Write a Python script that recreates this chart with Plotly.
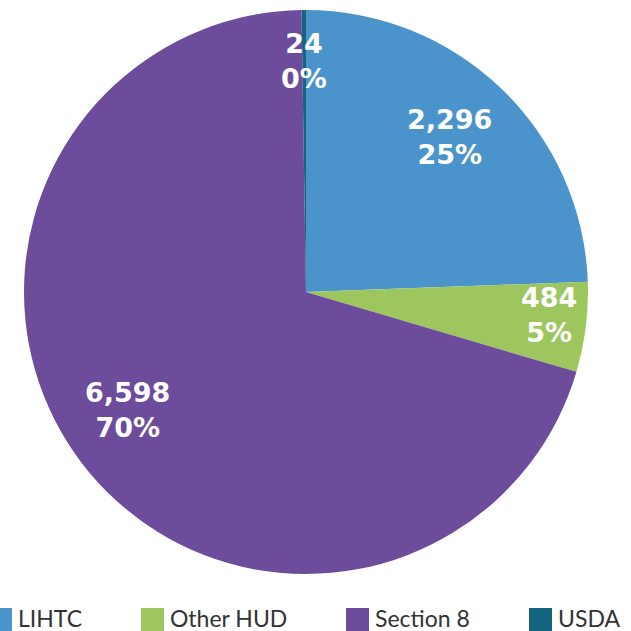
import math
import plotly.graph_objects as go

categories = ["LIHTC", "Other HUD", "Section 8", "USDA"]
units = [2296, 484, 6598, 24]
pct_labels = ["25%", "5%", "70%", "0%"]
colors = ["#4A94CB", "#9DC75E", "#6D4C9C", "#146482"]

# label placement: radius fraction along slice bisector plus pixel nudge (style)
label_r = [0.75, 0.87, 0.76, 0.815]
label_nudge = [(-3, -3), (0, -8), (-8, -12), (0, -1)]

W = H = 631
cx, cy, R = 306, 292, 282

fig = go.Figure()
fig.add_trace(go.Pie(
    labels=categories, values=units, sort=False, direction="clockwise", rotation=0,
    marker=dict(colors=colors, line=dict(width=0)),
    textinfo="none", hoverinfo="label+value+percent", showlegend=False,
    domain=dict(x=[(cx - R) / W, (cx + R) / W], y=[1 - (cy + R) / H, 1 - (cy - R) / H]),
))

total = sum(units)
cum = 0
annotations = []
for cat, v, p, rf, (ndx, ndy) in zip(categories, units, pct_labels, label_r, label_nudge):
    mid = (cum + v / 2) / total * 2 * math.pi
    cum += v
    px = cx + rf * R * math.sin(mid) + ndx
    py = cy - rf * R * math.cos(mid) + ndy
    annotations.append(dict(
        x=px / W, y=1 - py / H, xref="paper", yref="paper", showarrow=False,
        xanchor="center", yanchor="middle",
        text=f"{v:,}<br>{p}", align="center",
        font=dict(family="DejaVu Sans", size=27, color="white", weight=700),
    ))

# custom legend
leg_sq_left = [-11, 141, 346, 529]
leg_text_left = [16, 168, 373, 556]
shapes = []
for cat, col, sl, tl in zip(categories, colors, leg_sq_left, leg_text_left):
    shapes.append(dict(type="rect", xref="paper", yref="paper",
                       x0=sl / W, x1=(sl + 23) / W, y0=1 - 632 / H, y1=1 - 608 / H,
                       fillcolor=col, line=dict(width=0)))
    annotations.append(dict(x=tl / W, y=1 - 618 / H, xref="paper", yref="paper",
                            xanchor="left", yanchor="middle", showarrow=False,
                            text=cat, font=dict(family="Lato", size=23, color="#333333")))

fig.update_layout(
    width=W, height=H, margin=dict(l=0, r=0, t=0, b=0),
    paper_bgcolor="white", plot_bgcolor="white",
    annotations=annotations, shapes=shapes,
)
fig.write_html("out.html", config={"displayModeBar": False},
               post_script="document.body.style.margin='0';document.body.style.overflow='hidden';")
